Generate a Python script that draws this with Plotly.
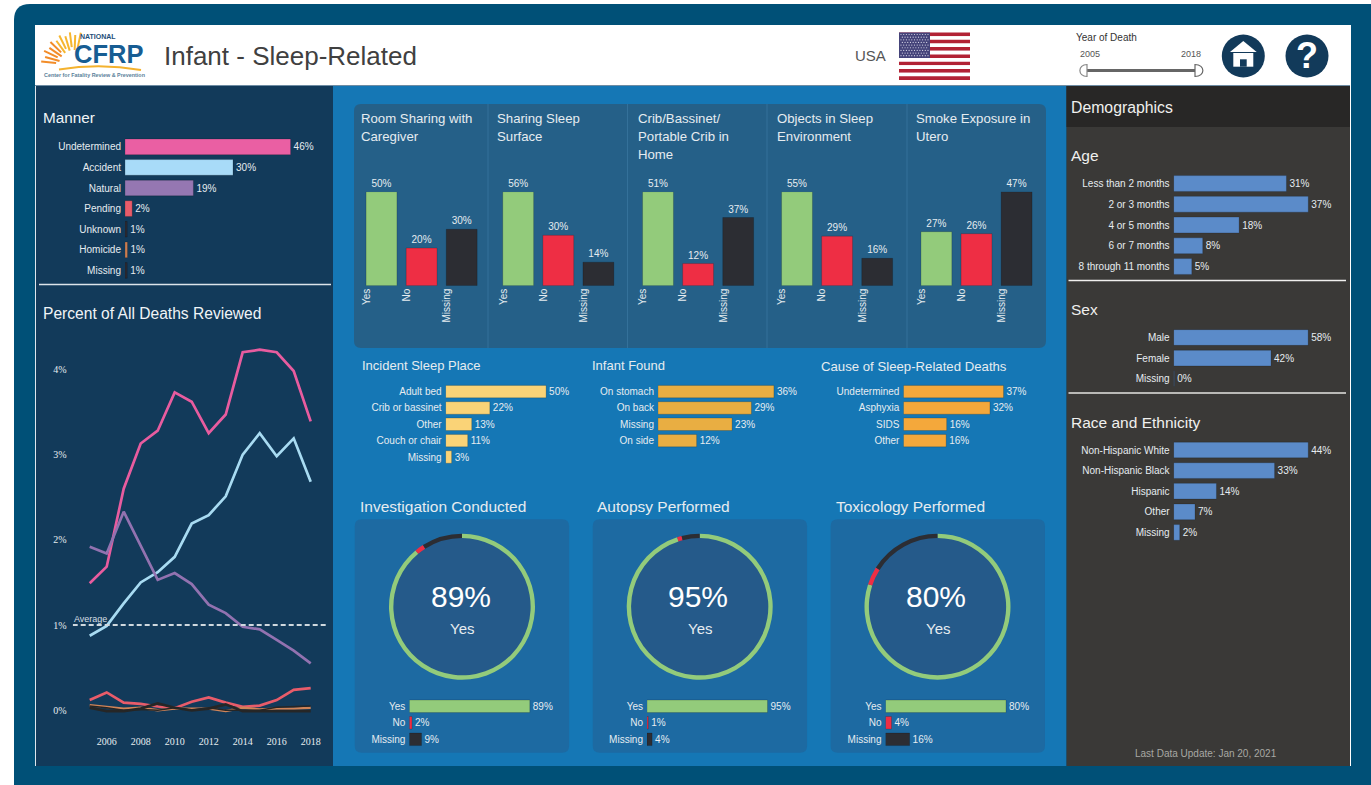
import math
import plotly.graph_objects as go

W, H = 1371, 785
SANS = "Liberation Sans"
SERIF = "Liberation Serif"

# ---- data ----
MANNER_LABELS = ["Undetermined", "Accident", "Natural", "Pending", "Unknown", "Homicide", "Missing"]
MANNER_VALUES = [46, 30, 19, 2, 0.6, 0.7, 0.6]
MANNER_COLORS = ["#EA5FA3", "#A8DBF8", "#9577B2", "#E85C6A", "#2A2A33", "#C97D52", "#2A2A33"]

YEARS = list(range(2005, 2019))
LINE_UNDETERMINED = [1.49, 1.685, 2.60, 3.13, 3.28, 3.73, 3.62, 3.25, 3.47, 4.20, 4.23, 4.20, 3.98, 3.39]
LINE_ACCIDENT = [0.875, 0.99, 1.255, 1.50, 1.62, 1.80, 2.19, 2.29, 2.51, 3.00, 3.25, 2.98, 3.19, 2.68]
LINE_NATURAL = [1.92, 1.84, 2.33, 1.92, 1.53, 1.61, 1.48, 1.24, 1.14, 0.98, 0.95, 0.825, 0.70, 0.55]
LINE_PENDING = [0.12, 0.21, 0.09, 0.075, 0.045, 0.025, 0.10, 0.15, 0.09, 0.04, 0.055, 0.12, 0.24, 0.26]
LINE_UNKNOWN = [0.03, -0.01, -0.01, 0.02, 0.08, 0.03, 0.0, 0.02, 0.07, -0.01, -0.01, -0.01, -0.01, -0.01]
LINE_MISSING = [0.05, 0.03, 0.0, 0.01, 0.0, 0.03, 0.0, 0.03, 0.0, 0.0, 0.0, 0.035, 0.04, 0.05]
LINE_HOMICIDE = [0.06, 0.04, 0.02, 0.03, 0.0, 0.02, 0.02, 0.02, -0.01, 0.03, 0.01, 0.02, 0.02, 0.03]
AVERAGE = [1, 1]
AVERAGE_X = [2004, 2019]

YNM = ["Yes", "No", "Missing"]
SLEEP_TITLES = [["Room Sharing with", "Caregiver"], ["Sharing Sleep", "Surface"],
                ["Crib/Bassinet/", "Portable Crib in", "Home"], ["Objects in Sleep", "Environment"],
                ["Smoke Exposure in", "Utero"]]
SLEEP_VALUES = [[50, 20, 30], [56, 30, 14], [51, 12, 37], [55, 29, 16], [27, 26, 47]]
YNM_COLORS = ["#93CB7B", "#EE2E44", "#2C2D33"]

PLACE_LABELS = ["Adult bed", "Crib or bassinet", "Other", "Couch or chair", "Missing"]
PLACE_VALUES = [50, 22, 13, 11, 3]
FOUND_LABELS = ["On stomach", "On back", "Missing", "On side"]
FOUND_VALUES = [36, 29, 23, 12]
CAUSE_LABELS = ["Undetermined", "Asphyxia", "SIDS", "Other"]
CAUSE_VALUES = [37, 32, 16, 15.8]

GAUGE_TITLES = ["Investigation Conducted", "Autopsy Performed", "Toxicology Performed"]
GAUGE_VALUES = [[89, 2, 9], [95, 1, 4], [80, 4, 16]]

AGE_LABELS = ["Less than 2 months", "2 or 3 months", "4 or 5 months", "6 or 7 months", "8 through 11 months"]
AGE_VALUES = [31, 37, 18, 8, 5]
SEX_LABELS = ["Male", "Female", "Missing"]
SEX_VALUES = [58, 42, 0.3]
RACE_LABELS = ["Non-Hispanic White", "Non-Hispanic Black", "Hispanic", "Other", "Missing"]
RACE_VALUES = [44, 33, 14, 7, 2]

# ---- helpers ----
fx = lambda x: x / W
fy = lambda y: 1 - y / H
fig = go.Figure()
shapes, annotations, layout_axes = [], [], {}
axis_count = 0


def rect(x0, y0, x1, y1, color):
    shapes.append(dict(type="rect", xref="paper", yref="paper", layer="below",
                       x0=fx(x0), x1=fx(x1), y0=fy(y1), y1=fy(y0), fillcolor=color, line_width=0))


def path(cmds, fill=None, line=None, lw=0):
    out = []
    for c in cmds:
        if isinstance(c, str):
            out.append(c)
        else:
            out.append(f"{fx(c[0]):.6f},{fy(c[1]):.6f}")
    shapes.append(dict(type="path", xref="paper", yref="paper", layer="below", path=" ".join(out),
                       fillcolor=fill or "rgba(0,0,0,0)", line=dict(color=line or "rgba(0,0,0,0)", width=lw)))


def round_rect(x0, y0, x1, y1, r, color):
    path(["M", (x0 + r, y0), "L", (x1 - r, y0), "Q", (x1, y0), (x1, y0 + r), "L", (x1, y1 - r),
          "Q", (x1, y1), (x1 - r, y1), "L", (x0 + r, y1), "Q", (x0, y1), (x0, y1 - r), "L", (x0, y0 + r),
          "Q", (x0, y0), (x0 + r, y0), "Z"], fill=color)


def circle(cx, cy, r, color, line=None, lw=0):
    shapes.append(dict(type="circle", xref="paper", yref="paper", layer="below",
                       x0=fx(cx - r), x1=fx(cx + r), y0=fy(cy + r), y1=fy(cy - r), fillcolor=color,
                       line=dict(color=line or "rgba(0,0,0,0)", width=lw)))


def seg(x0, y0, x1, y1, color, w=1):
    shapes.append(dict(type="line", xref="paper", yref="paper", layer="below",
                       x0=fx(x0), x1=fx(x1), y0=fy(y0), y1=fy(y1), line=dict(color=color, width=w)))


def text(x, y, s, size=10, color="#E6ECF0", anchor="left", family=SANS, weight=None):
    if anchor == "left":
        x -= 1.2
    annotations.append(dict(xref="paper", yref="paper", x=fx(x), y=fy(y), text=s, showarrow=False,
                            xanchor=anchor, yanchor="middle", align=anchor, borderpad=0,
                            font=dict(size=size, color=color, family=family,
                                      **({"weight": weight} if weight else {}))))


def new_axes(x0, x1, y0, y1, xcfg, ycfg):
    global axis_count
    axis_count += 1
    n = axis_count
    base = dict(showgrid=False, zeroline=False, showline=False, fixedrange=True, ticks="")
    layout_axes[f"xaxis{n}"] = dict(base, domain=[fx(x0), fx(x1)], anchor=f"y{n}", **xcfg)
    layout_axes[f"yaxis{n}"] = dict(base, domain=[fy(y1), fy(y0)], anchor=f"x{n}", **ycfg)
    return f"x{n}", f"y{n}"


def hbars(labels, values, colors, x0, per, ymid0, pitch, label_color="#E6ECF0", xmax=None, gap=0.24, size=10):
    n = len(labels)
    x1 = xmax if xmax else x0 + per * max(values) + 40
    y0 = ymid0 - pitch / 2
    xa, ya = new_axes(x0, x1, y0, y0 + pitch * n,
                      dict(range=[0, (x1 - x0) / per], showticklabels=False),
                      dict(type="category", categoryorder="array", categoryarray=labels, range=[n - 0.5, -0.5],
                           tickfont=dict(size=size, color=label_color, family=SANS), ticklabelstandoff=3))
    fig.add_trace(go.Bar(x=values, y=labels, orientation="h", xaxis=xa, yaxis=ya, width=1 - gap,
                         marker=dict(color=colors, line=dict(color="rgba(0,0,0,0.18)", width=1)),
                         text=[f"{round(v)}%" for v in values], textposition="outside", cliponaxis=False,
                         constraintext="none", textfont=dict(size=size, color=label_color, family=SANS),
                         showlegend=False, hoverinfo="skip"))


# ---- page frame and panels ----
round_rect(14, 4, 1395, 810, 16, "#005077")
rect(35, 25, 1351, 86, "#FFFFFF")
seg(35, 85.5, 1350, 85.5, "#6E8CA3", 1)
rect(35, 86, 36, 766, "#DDE6EC")
rect(36, 86, 333, 766, "#123A5A")
rect(333, 86, 1066.5, 766, "#1577B5")
rect(1066.5, 86, 1350, 766, "#3A3937")
rect(1066.5, 86, 1350, 127, "#282726")
rect(1350, 86, 1351, 766, "#FFFFFF")

round_rect(354, 104, 1046, 348, 7, "#256088")
for dx in (488, 627.5, 767, 907):
    seg(dx, 104, dx, 348, "#34719A", 1)
for gx in (354.7, 592.7, 830.6):
    round_rect(gx, 519.3, gx + 214.4, 752.7, 7, "#1D6AA2")

seg(39, 284.5, 331, 284.5, "#DCE4EA", 1.3)
seg(1068.5, 280.5, 1346, 280.5, "#F0F0EE", 1.5)
seg(1068.5, 393, 1346, 393, "#E4E4E2", 1.3)

# ---- header: logo ----
for i in range(11):
    ang = math.radians(186 + i * 9.6)
    r0, r1 = (15, 30) if i % 2 else (18, 33)
    c = "#F28C28" if i < 5 else "#F6B62E"
    seg(74 + r0 * math.cos(ang), 65 + r0 * math.sin(ang), 74 + r1 * math.cos(ang), 65 + r1 * math.sin(ang), c, 2)
path(["M", (59, 69.5), "Q", (100, 63), (141, 70)], line="#F4B22E", lw=2)
text(98, 36.5, "NATIONAL", 7, "#1E4E78", "center", weight="bold")
text(108.5, 54.5, "CFRP", 25.5, "#175D93", "center", weight="bold")
text(94.5, 75, "Center for Fatality Review &amp; Prevention", 5.4, "#5A7F9A", "center", weight="bold")
text(164, 56, "Infant - Sleep-Related", 26, "#404040")
text(855, 55.5, "USA", 15, "#555555")

# flag
for i in range(13):
    rect(899, 32.5 + i * 3.65, 970, 32.5 + (i + 1) * 3.65, "#B22234" if i % 2 == 0 else "#FFFFFF")
rect(899, 32.5, 930, 58, "#45447A")
for r in range(9):
    for c in range(11 if r % 2 == 0 else 10):
        sx = 901 + c * 2.7 + (0 if r % 2 == 0 else 1.35)
        sy = 34.5 + r * 2.65
        circle(sx, sy, 0.6, "#D6D6E6")

# slider and icons
text(1076.5, 38, "Year of Death", 10, "#333333")
text(1090, 54, "2005", 9, "#555555", "center")
text(1191, 54, "2018", 9, "#555555", "center")
seg(1086, 70.5, 1195, 70.5, "#666666", 3)
path(["M", (1087, 64.5), "C", (1077.5, 64.5), (1077.5, 76.5), (1087, 76.5), "Z"], fill="#FFFFFF", line="#888888", lw=1.2)
path(["M", (1195, 64.5), "C", (1205.5, 64.5), (1205.5, 76.5), (1195, 76.5), "Z"], fill="#FFFFFF", line="#666666", lw=1.2)

circle(1243.3, 56, 21.5, "#123A5A")
path(["M", (1230, 52), "L", (1243.3, 41), "L", (1256.7, 52), "Z"], fill="#FFFFFF")
rect(1233.3, 53, 1253.3, 66.7, "#FFFFFF")
rect(1240, 59.3, 1246.7, 66.7, "#123A5A")
circle(1307, 56, 21.5, "#123A5A")
text(1307, 56, "?", 36, "#FFFFFF", "center", weight="bold")

# ---- left panel ----
text(43, 118, "Manner", 15.3, "#F0F4F7")
hbars(MANNER_LABELS, MANNER_VALUES, MANNER_COLORS, 125, 3.6, 146.8, 20.6, xmax=325)
text(43, 313.5, "Percent of All Deaths Reviewed", 15.6, "#F0F4F7")

xa, ya = new_axes(72.7, 327.7, 340, 734,
                  dict(range=[2004, 2019], tickmode="array", tickvals=list(range(2006, 2019, 2)),
                       tickfont=dict(size=10, color="#E6ECF0", family=SERIF)),
                  dict(range=[-0.278, 4.344], tickmode="array", tickvals=[0, 1, 2, 3, 4],
                       ticktext=["0%", "1%", "2%", "3%", "4%"], tickfont=dict(size=10, color="#E6ECF0", family=SERIF),
                       ticklabelstandoff=5))
for vals, col, lw in [(LINE_UNDETERMINED, "#E85C9F", 2.7), (LINE_ACCIDENT, "#A8DBF2", 2.7), (LINE_NATURAL, "#9272B0", 2.7),
                      (LINE_PENDING, "#E85C6A", 2.7), (LINE_HOMICIDE, "#D08458", 2.4),
                      (LINE_UNKNOWN, "#262626", 2.7), (LINE_MISSING, "#262626", 1.6)]:
    fig.add_trace(go.Scatter(x=YEARS, y=vals, mode="lines", line=dict(color=col, width=lw), xaxis=xa, yaxis=ya,
                             showlegend=False, hoverinfo="skip", cliponaxis=False))
fig.add_trace(go.Scatter(x=AVERAGE_X, y=AVERAGE, mode="lines", line=dict(color="#CFD8DE", width=2, dash="5px,3px"),
                         xaxis=xa, yaxis=ya, showlegend=False, hoverinfo="skip"))
text(74.5, 619, "Average", 9, "#D6DEE4")

# ---- five yes/no/missing bar panels ----
SLEEP_CENTERS = [381.5, 518.2, 658, 797, 936.4]
SLEEP_TITLE_X = [361.5, 497.5, 638, 777, 916.5]
SLEEP_LINE_Y = [119, 136.5, 154.5]
for t, vals, cx, tx in zip(SLEEP_TITLES, SLEEP_VALUES, SLEEP_CENTERS, SLEEP_TITLE_X):
    pitch = 40.1
    xa, ya = new_axes(cx - pitch / 2, cx + 2.5 * pitch, 191.7, 285.7,
                      dict(range=[-0.5, 2.5], tickmode="array", tickvals=[-0.37, 0.63, 1.63], ticktext=YNM,
                           tickangle=-90, tickfont=dict(size=10, color="#E6ECF0", family=SANS)),
                      dict(range=[0, max(vals)], showticklabels=False))
    fig.add_trace(go.Bar(x=[0, 1, 2], y=vals, xaxis=xa, yaxis=ya, width=0.77,
                         marker=dict(color=YNM_COLORS, line=dict(color="rgba(0,0,0,0.18)", width=1)),
                         text=[f"{v}%" for v in vals], textposition="outside", cliponaxis=False, constraintext="none",
                         textfont=dict(size=10, color="#E6ECF0", family=SANS), showlegend=False, hoverinfo="skip"))
    for line_text, ly in zip(t, SLEEP_LINE_Y):
        text(tx, ly, line_text, 13.2, "#E6ECF0")

# ---- middle horizontal bar sections ----
text(362.5, 365.5, "Incident Sleep Place", 13, "#E6ECF0")
hbars(PLACE_LABELS, PLACE_VALUES, ["#FAD377"] * 5, 445.6, 2.01, 391.6, 16.35)
text(592, 365.5, "Infant Found", 13, "#E6ECF0")
hbars(FOUND_LABELS, FOUND_VALUES, ["#E9AE42"] * 4, 658, 3.22, 391.6, 16.35)
text(821.5, 366.5, "Cause of Sleep-Related Deaths", 13.2, "#E6ECF0")
hbars(CAUSE_LABELS, CAUSE_VALUES, ["#F4A83B"] * 4, 903.4, 2.705, 391.6, 16.35)

# ---- gauges ----
GAUGE_CENTERS = [462, 699.7, 937.5]
GAUGE_TITLE_X = [360, 597.6, 836]
GAUGE_BAR_X = [409.3, 647, 885.5]
for t, vals, cx, tx, bx in zip(GAUGE_TITLES, GAUGE_VALUES, GAUGE_CENTERS, GAUGE_TITLE_X, GAUGE_BAR_X):
    text(tx, 506, t, 15.5, "#E6ECF0")
    circle(cx, 606.7, 71, "#255A8A")
    fig.add_trace(go.Pie(values=vals, labels=YNM, sort=False, direction="clockwise", rotation=0, hole=0.94,
                         textinfo="none", showlegend=False, hoverinfo="skip",
                         marker=dict(colors=YNM_COLORS, line=dict(width=0)),
                         domain=dict(x=[fx(cx - 73), fx(cx + 73)], y=[fy(606.7 + 73), fy(606.7 - 73)])))
    text(cx - 1.5, 596.7, f"{vals[0]}%", 30, "#FFFFFF", "center")
    text(cx, 628, YNM[0], 15, "#E6ECF0", "center")
    hbars(YNM, vals, YNM_COLORS, bx, 120.5 / max(vals), 706.3, 16.5)

# ---- right panel ----
text(1071.5, 107.5, "Demographics", 15.8, "#F0F0EE")
text(1071.5, 155.5, "Age", 15.5, "#F0F0EE")
hbars(AGE_LABELS, AGE_VALUES, ["#5B8BC9"] * 5, 1173.6, 3.64, 183.5, 20.75)
text(1071.5, 309, "Sex", 15.5, "#F0F0EE")
hbars(SEX_LABELS, SEX_VALUES, ["#5B8BC9"] * 3, 1173.6, 2.32, 337.5, 20.6)
text(1071.5, 422, "Race and Ethnicity", 15.5, "#F0F0EE")
hbars(RACE_LABELS, RACE_VALUES, ["#5B8BC9"] * 5, 1173.6, 3.06, 450, 20.6)
text(1206, 753, "Last Data Update: Jan 20, 2021", 10, "#A8A8A4", "center")

fig.update_layout(width=W, height=H, margin=dict(l=0, r=0, t=0, b=0, pad=0), autosize=False,
                  paper_bgcolor="#FFFFFF", plot_bgcolor="rgba(0,0,0,0)", bargap=0.2, shapes=shapes,
                  annotations=annotations, font=dict(family=SANS), **layout_axes)
fig.write_html("out.html", config={"displayModeBar": False, "staticPlot": True},
               post_script="document.body.style.margin='0';document.body.style.overflow='hidden';")
